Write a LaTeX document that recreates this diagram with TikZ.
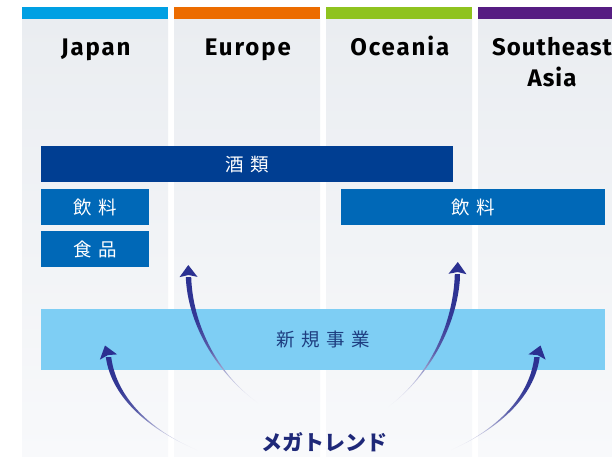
\documentclass[tikz,border=0pt]{standalone}
\usepackage{fontspec}
\setmainfont{Fira Sans}
\newfontfamily\hdfont[LetterSpace=8]{Fira Sans}
\newfontfamily\hdfontnarrow[LetterSpace=4.5]{Fira Sans}
\newfontfamily\cjk{Noto Sans CJK JP}
\usetikzlibrary{calc}
\definecolor{colbgtop}{RGB}{234,237,241}
\definecolor{colbgbot}{RGB}{248,249,251}
\definecolor{barjp}{RGB}{0,160,227}
\definecolor{bareu}{RGB}{236,108,0}
\definecolor{baroc}{RGB}{143,195,31}
\definecolor{barsa}{RGB}{86,29,130}
\definecolor{sakec}{RGB}{0,62,146}
\definecolor{bizc}{RGB}{0,104,183}
\definecolor{newbizc}{RGB}{126,206,244}
\definecolor{newtextc}{RGB}{30,62,128}
\definecolor{arrowc}{RGB}{43,48,145}
\definecolor{megac}{RGB}{30,40,120}
\pgfdeclareverticalshading{arrowfade}{100bp}{color(0bp)=(arrowc!4); color(25bp)=(arrowc!4); color(35bp)=(arrowc!30); color(46bp)=(arrowc!78); color(58bp)=(arrowc!96); color(75bp)=(arrowc); color(100bp)=(arrowc)}
\newcommand\ls{\kern6.5pt}
\tikzset{
  colbg/.style={top color=colbgtop, bottom color=colbgbot, draw=none, inner sep=0pt,
    anchor=north west, minimum width=146pt, minimum height=437pt},
  colbar/.style={fill=#1, draw=none, inner sep=0pt, anchor=north west,
    minimum width=146pt, minimum height=12pt},
  header/.style={font=\hdfont\fontsize{24}{31.7}\selectfont\bfseries, text=black,
    align=center, anchor=base, inner sep=0pt},
  bizbox/.style={fill=#1, text=white, draw=none, inner sep=0pt, anchor=north west,
    font=\cjk\fontsize{18.5}{18.5}\selectfont},
  megatext/.style={font=\cjk\bfseries\fontsize{21}{21}\selectfont, text=megac,
    anchor=base, inner sep=0pt},
  shaft/.style={shading=arrowfade, draw=none},
  arrowhead/.style={fill=arrowc, draw=none}
}
\newcommand\trendarrow[5]{%
  \shade[shaft] (#1) .. controls ($(#2)+(-0.4,0)$) and ($(#3)+(-2.5,0)$) .. ($(#4)+(-2.7,0)$)
     -- ($(#4)+(2.7,0)$) .. controls ($(#3)+(2.5,0)$) and ($(#2)+(0.4,0)$) .. (#1) -- cycle;
  \fill[arrowhead] (#5) -- ($(#4)!9pt!-90:(#5)$) -- ($(#4)!2pt!(#5)$) -- ($(#4)!9pt!90:(#5)$) -- cycle;
}
\begin{document}
\begin{tikzpicture}[x=1pt,y=-1pt]
\useasboundingbox (0,0) rectangle (612,456);
\fill[white] (0,0) rectangle (612,456);
% columns
\node[colbg] (cjp) at (22,19) {};
\node[colbg] (ceu) at (174,19) {};
\node[colbg] (coc) at (326,19) {};
\node[colbg] (csa) at (478,19) {};
\node[colbar=barjp] (bjp) at (22,7) {};
\node[colbar=bareu] (beu) at (174,7) {};
\node[colbar=baroc] (boc) at (326,7) {};
\node[colbar=barsa] (bsa) at (478,7) {};
% headers
\node[header] (hjp) at (95.8,55) {Japan};
\node[header] (heu) at (247.8,55) {Europe};
\node[header] (hoc) at (399.8,55) {Oceania};
\node[header, font=\hdfontnarrow\fontsize{24}{31.7}\selectfont\bfseries] (hsa) at (552,86.7) {Southeast\\Asia};
% business boxes
\node[bizbox=sakec, minimum width=412pt, minimum height=36pt] (sake) at (41,146) {酒\ls 類};
\node[bizbox=bizc, minimum width=108pt, minimum height=36pt] (drinkjp) at (41,189) {飲\ls 料};
\node[bizbox=bizc, minimum width=108pt, minimum height=36pt] (food) at (41,231) {食\ls 品};
\node[bizbox=bizc, minimum width=264pt, minimum height=36pt] (drinkoc) at (341,189) {飲\ls 料};
\node[bizbox=newbizc, text=newtextc, minimum width=564pt, minimum height=61pt] (newbiz) at (41,309) {新\ls 規\ls 事\ls 業};
% megatrend
\node[megatext] (mega) at (324,450.5) {メガトレンド};
% arrows
\coordinate (t1) at (197,450); \coordinate (a1) at (150,430); \coordinate (c1) at (114,398);
\coordinate (e1) at (108.5,357); \coordinate (p1) at (105,345.5);
\coordinate (t2) at (258,403); \coordinate (a2) at (215,372); \coordinate (c2) at (190,322);
\coordinate (e2) at (188.5,277); \coordinate (p2) at (188.3,265);
\coordinate (t3) at (388,407); \coordinate (a3) at (431,375); \coordinate (c3) at (456,322);
\coordinate (e3) at (457.5,274); \coordinate (p3) at (457.8,262);
\coordinate (t4) at (451,450); \coordinate (a4) at (496,430); \coordinate (c4) at (532,398);
\coordinate (e4) at (537,357); \coordinate (p4) at (540.5,345.5);
\trendarrow{t1}{a1}{c1}{e1}{p1}
\trendarrow{t2}{a2}{c2}{e2}{p2}
\trendarrow{t3}{a3}{c3}{e3}{p3}
\trendarrow{t4}{a4}{c4}{e4}{p4}
\end{tikzpicture}
\end{document}
